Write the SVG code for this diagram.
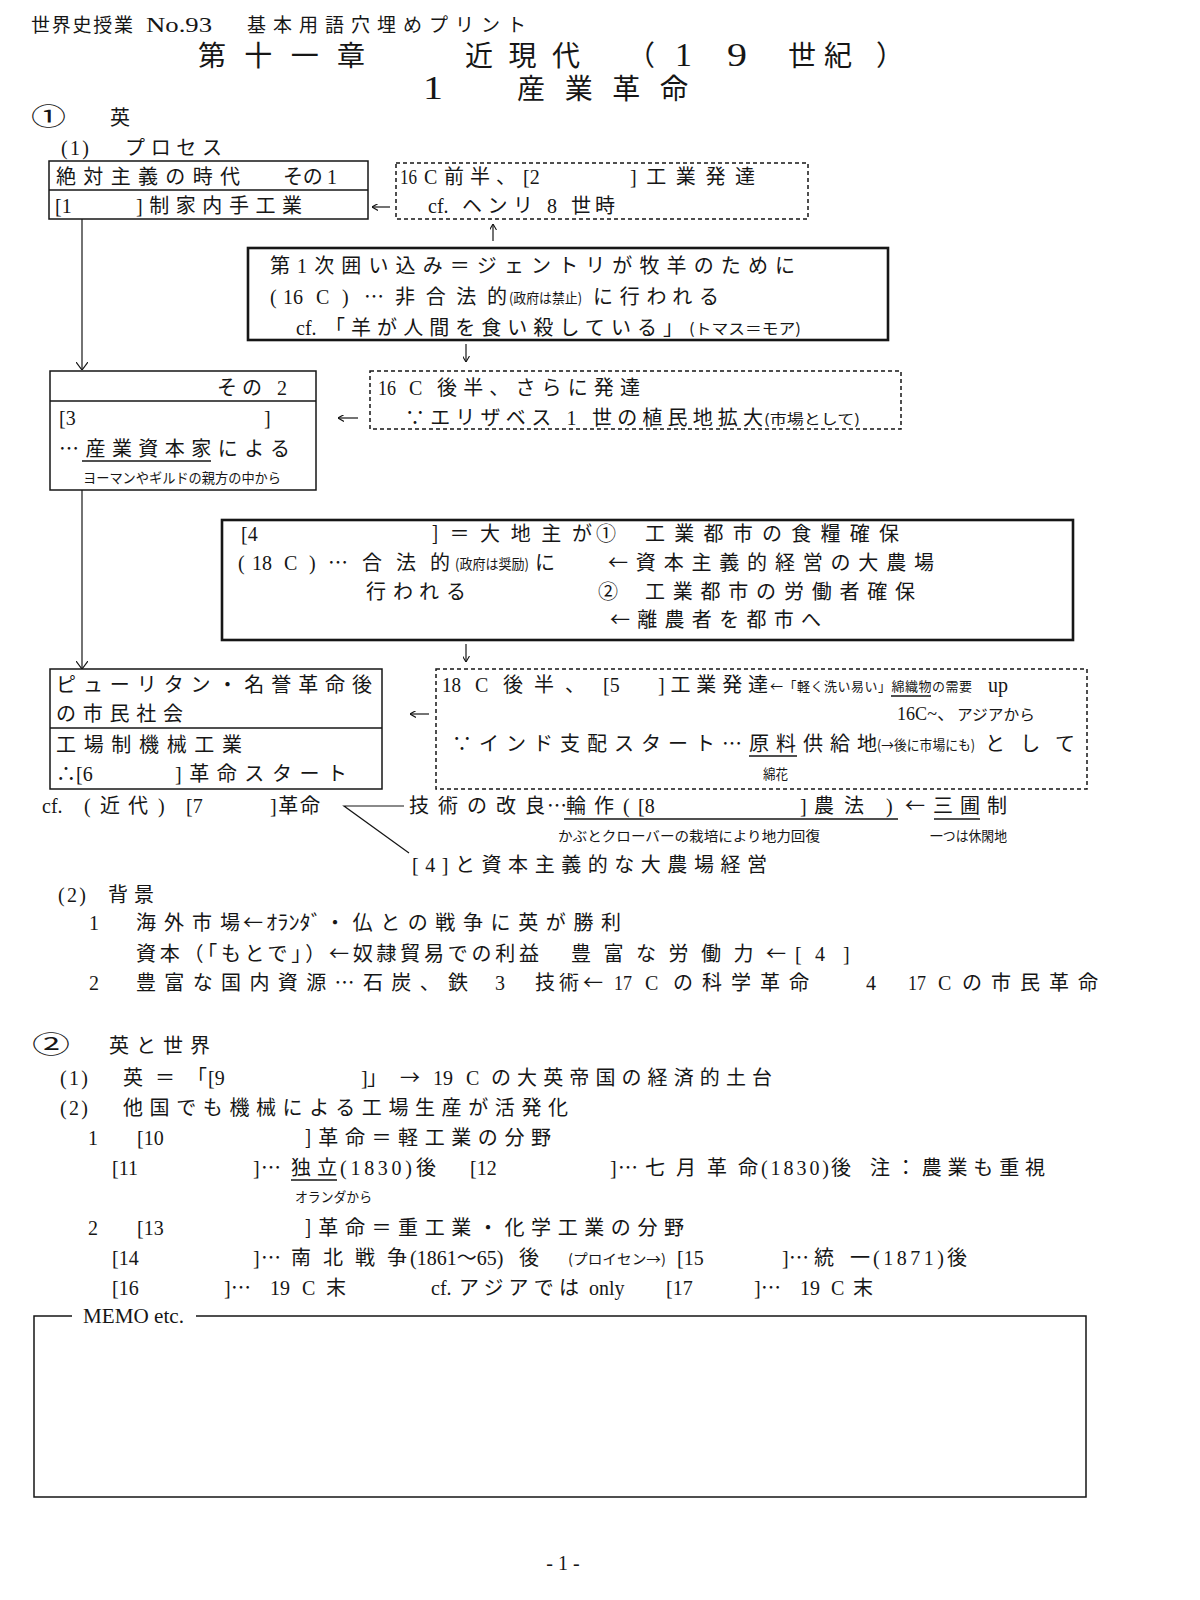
<svg xmlns="http://www.w3.org/2000/svg" width="1200" height="1600" viewBox="0 0 1200 1600">
<defs>
<style>
text{font-family:"Liberation Serif","Noto Sans CJK JP",serif;fill:#161616;font-size:20px}
.j,.s,.m{font-family:"Noto Sans CJK JP",sans-serif}
.s{font-size:14px}
.m{font-size:15px}
.h{font-size:19px}
.t{font-size:28px}
.td{font-size:33px}
.c{font-size:24px}
.box{fill:none;stroke:#161616;stroke-width:1.5}
.thick{stroke-width:2.6}
.dash{fill:none;stroke:#161616;stroke-width:1.5;stroke-dasharray:4 3}
.ln{fill:none;stroke:#161616;stroke-width:1.2}
.ul{stroke:#161616;stroke-width:1.6}
</style>
<marker id="sa" viewBox="0 0 6 7" refX="6" refY="3.5" markerWidth="6" markerHeight="7" markerUnits="userSpaceOnUse" orient="auto">
<path d="M0,0 L6,3.5 L0,7" fill="none" stroke="#161616" stroke-width="1.1"/>
</marker>
<marker id="va" viewBox="0 0 8 12" refX="8" refY="6" markerWidth="8" markerHeight="12" markerUnits="userSpaceOnUse" orient="auto">
<path d="M0,0 L8,6 L0,12" fill="none" stroke="#161616" stroke-width="1.2"/>
</marker>
</defs>
<rect width="1200" height="1600" fill="#ffffff"/>

<g id="header">
<text class="h" x="31" y="32" textLength="102">世界史授業</text>
<text x="146" y="32" style="font-size:22px" textLength="66" lengthAdjust="spacingAndGlyphs">No.93</text>
<text class="h" x="247" y="32" textLength="279">基本用語穴埋めプリント</text>
<text class="t" x="198" y="66" textLength="167">第十一章</text>
<text class="t" x="465" y="66" textLength="115">近現代</text>
<text class="t j" x="627" y="66">（</text>
<text class="td" x="675" y="66" textLength="17" lengthAdjust="spacingAndGlyphs">1</text>
<text class="td" x="727" y="66" textLength="20" lengthAdjust="spacingAndGlyphs">9</text>
<text class="t" x="788" y="66" textLength="64">世紀</text>
<text class="t j" x="876" y="66">）</text>
<text class="td" x="423" y="99" textLength="20" lengthAdjust="spacingAndGlyphs">1</text>
<text class="t" x="517" y="99" textLength="171">産業革命</text>
</g>

<g id="section1">
<text class="c j" x="31" y="125" textLength="35" lengthAdjust="spacingAndGlyphs">①</text>
<text x="110" y="125">英</text>
<text x="61" y="155" textLength="28">(1)</text>
<text x="125" y="155" textLength="97">プロセス</text>
</g>

<g id="node-absolutism-1">
<rect class="box" x="49" y="161" width="319" height="58"/>
<line class="box" x1="49" y1="190" x2="368" y2="190"/>
<text x="56" y="184" textLength="184">絶対主義の時代</text>
<text x="283" y="184" textLength="54">その 1</text>
<text x="55" y="213">[1</text>
<text x="136" y="213" textLength="166">]制家内手工業</text>
</g>

<g id="node-16c-first-half">
<rect class="dash" x="396" y="163" width="412" height="56"/>
<text x="400" y="184" textLength="17" lengthAdjust="spacingAndGlyphs">16</text>
<text x="424" y="184">C</text>
<text x="444" y="184" textLength="72">前半、</text>
<text x="523" y="184">[2</text>
<text x="630" y="184" textLength="125">]工業発達</text>
<text x="428" y="213">cf.</text>
<text x="462" y="213" textLength="71">ヘンリ</text>
<text x="547" y="213">8</text>
<text x="571" y="213" textLength="44">世時</text>
</g>

<g id="node-enclosure-1">
<rect class="box thick" x="248" y="248" width="640" height="92"/>
<text x="270" y="273" textLength="525">第1次囲い込み＝ジェントリが牧羊のために</text>
<text y="304"><tspan x="270">(</tspan><tspan x="283">16</tspan><tspan x="316">C</tspan><tspan x="342">)</tspan></text>
<text class="j" x="364" y="304">…</text>
<text x="395" y="304" textLength="112">非合法的</text>
<text class="s" x="509" y="303" textLength="73" lengthAdjust="spacingAndGlyphs">(政府は禁止)</text>
<text x="593" y="304" textLength="126">に行われる</text>
<text x="296" y="335">cf.</text>
<text class="j" x="325" y="335" textLength="358">「羊が人間を食い殺している」</text>
<text class="m" x="689" y="334" textLength="112" lengthAdjust="spacingAndGlyphs">(トマス＝モア)</text>
</g>

<g id="node-absolutism-2">
<rect class="box" x="50" y="371" width="266" height="119"/>
<line class="box" x1="50" y1="401" x2="316" y2="401"/>
<text x="217" y="395" textLength="70">その 2</text>
<text x="59" y="425">[3</text>
<text x="264" y="425">]</text>
<text class="j" x="59" y="456" textLength="231">…産業資本家による</text>
<line class="ul" x1="82" y1="461" x2="211" y2="461"/>
<text class="s" x="83" y="483" textLength="198" lengthAdjust="spacingAndGlyphs">ヨーマンやギルドの親方の中から</text>
</g>

<g id="node-16c-second-half">
<rect class="dash" x="370" y="371" width="531" height="58"/>
<text x="378" y="395" textLength="18" lengthAdjust="spacingAndGlyphs">16</text>
<text x="409" y="395">C</text>
<text x="437" y="395" textLength="203">後半、さらに発達</text>
<text x="405" y="425" textLength="358"><tspan class="j">∵</tspan>エリザベス 1 世の植民地拡大</text>
<text class="s" x="764" y="424" textLength="96" lengthAdjust="spacingAndGlyphs">(市場として)</text>
</g>

<g id="node-enclosure-2">
<rect class="box thick" x="222" y="520" width="851" height="120"/>
<text x="241" y="541">[4</text>
<text class="j" x="432" y="541" textLength="160">]＝大地主が</text>
<text class="j" x="596" y="541">①</text>
<text x="645" y="541" textLength="254">工業都市の食糧確保</text>
<text y="570"><tspan x="238">(</tspan><tspan x="252">18</tspan><tspan x="284">C</tspan><tspan x="309">)</tspan></text>
<text class="j" x="328" y="570">…</text>
<text x="362" y="570" textLength="88">合法的</text>
<text class="s" x="455" y="569" textLength="74" lengthAdjust="spacingAndGlyphs">(政府は奨励)</text>
<text x="535" y="570">に</text>
<text class="j" x="608" y="570" textLength="326">←資本主義的経営の大農場</text>
<text x="366" y="599" textLength="100">行われる</text>
<text class="j" x="598" y="599">②</text>
<text x="645" y="599" textLength="270">工業都市の労働者確保</text>
<text class="j" x="610" y="627" textLength="211">←離農者を都市へ</text>
</g>

<g id="node-civil-society">
<rect class="box" x="50" y="669" width="332" height="120"/>
<line class="box" x1="50" y1="728" x2="382" y2="728"/>
<text x="56" y="692" textLength="316">ピューリタン・名誉革命後</text>
<text x="56" y="721" textLength="127">の市民社会</text>
<text x="56" y="752" textLength="186">工場制機械工業</text>
<text x="56" y="781"><tspan class="j">∴</tspan>[6</text>
<text x="175" y="781" textLength="172">]革命スタート</text>
</g>

<g id="node-18c-second-half">
<rect class="dash" x="436" y="669" width="651" height="120"/>
<text x="442" y="692" textLength="19" lengthAdjust="spacingAndGlyphs">18</text>
<text x="475" y="692">C</text>
<text x="503" y="692" textLength="82">後半、</text>
<text x="603" y="692">[5</text>
<text x="658" y="692" textLength="110">]工業発達</text>
<text class="j" x="770" y="691" style="font-size:13px" textLength="202">←「軽く洗い易い」綿織物の需要</text>
<line class="ul" x1="891" y1="696" x2="931" y2="696"/>
<text x="988" y="692">up</text>
<text x="897" y="720" style="font-size:18px" textLength="58" lengthAdjust="spacingAndGlyphs">16C~、</text>
<text class="m" x="957" y="720" textLength="78" lengthAdjust="spacingAndGlyphs">アジアから</text>
<text class="j" x="452" y="751" textLength="425">∵インド支配スタート…原料供給地</text>
<line class="ul" x1="749" y1="756" x2="797" y2="756"/>
<text class="s" x="877" y="750" textLength="98" lengthAdjust="spacingAndGlyphs">(→後に市場にも)</text>
<text x="985" y="751" textLength="90">として</text>
<text class="s" x="763" y="779" textLength="25" lengthAdjust="spacingAndGlyphs">綿花</text>
</g>

<g id="node-agricultural-revolution">
<text x="42" y="813">cf.</text>
<text y="813"><tspan x="84">(</tspan><tspan x="100">近</tspan><tspan x="128">代</tspan><tspan x="158">)</tspan></text>
<text x="186" y="813">[7</text>
<text x="270" y="813" textLength="50">]革命</text>
<text x="409" y="813" textLength="136">技術の改良</text>
<text class="j" x="547" y="813">…</text>
<text x="566" y="813" textLength="48">輪作</text>
<text x="623" y="813">(</text>
<text x="638" y="813">[8</text>
<text x="800" y="813">]</text>
<text x="814" y="813" textLength="50">農法</text>
<text x="886" y="813">)</text>
<line class="ul" x1="564" y1="819" x2="898" y2="819"/>
<text class="j" x="905" y="813">←</text>
<text x="933" y="813" textLength="74">三圃制</text>
<line class="ul" x1="934" y1="819" x2="980" y2="819"/>
<text class="s" x="558" y="841" textLength="262" lengthAdjust="spacingAndGlyphs">かぶとクローバーの栽培により地力回復</text>
<text class="s" x="930" y="841" textLength="77" lengthAdjust="spacingAndGlyphs">一つは休閑地</text>
<text x="412" y="872" textLength="355">[4]と資本主義的な大農場経営</text>
</g>

<g id="background">
<text x="58" y="902" textLength="28">(2)</text>
<text x="108" y="902" textLength="46">背景</text>
<text x="89" y="930">1</text>
<text x="136" y="930" textLength="104">海外市場</text>
<text class="j" x="243" y="930">←</text>
<text class="j" x="266" y="930" textLength="56" lengthAdjust="spacingAndGlyphs">ｵﾗﾝﾀﾞ</text>
<text x="325" y="930" textLength="296">・仏との戦争に英が勝利</text>
<text class="j" x="136" y="961" textLength="403">資本（「もとで」）←奴隷貿易での利益</text>
<text class="j" x="571" y="961" textLength="215">豊富な労働力←</text>
<text x="795" y="961">[</text>
<text x="815" y="961">4</text>
<text x="843" y="961">]</text>
<text x="89" y="990">2</text>
<text class="j" x="136" y="990" textLength="332">豊富な国内資源…石炭、鉄</text>
<text x="495" y="990">3</text>
<text class="j" x="535" y="990" textLength="68">技術←</text>
<text x="614" y="990" textLength="18" lengthAdjust="spacingAndGlyphs">17</text>
<text x="645" y="990">C</text>
<text x="673" y="990" textLength="136">の科学革命</text>
<text x="866" y="990">4</text>
<text x="908" y="990" textLength="18" lengthAdjust="spacingAndGlyphs">17</text>
<text x="938" y="990">C</text>
<text x="962" y="990" textLength="136">の市民革命</text>
</g>

<g id="section2">
<text class="c j" x="32" y="1053" textLength="38" lengthAdjust="spacingAndGlyphs">②</text>
<text x="109" y="1053" textLength="101">英と世界</text>
<text x="60" y="1085" textLength="28">(1)</text>
<text class="j" x="123" y="1085" textLength="84">英＝「</text>
<text x="208" y="1085">[9</text>
<text x="361" y="1085">]</text>
<text class="j" x="367" y="1085">」</text>
<text class="j" x="400" y="1085">→</text>
<text x="433" y="1085">19</text>
<text x="466" y="1085">C</text>
<text x="491" y="1085" textLength="281">の大英帝国の経済的土台</text>
<text x="60" y="1115" textLength="28">(2)</text>
<text x="123" y="1115" textLength="445">他国でも機械による工場生産が活発化</text>
<text x="88" y="1145">1</text>
<text x="137" y="1145">[10</text>
<text class="j" x="305" y="1145" textLength="246">]革命＝軽工業の分野</text>

<text x="112" y="1175">[11</text>
<text x="253" y="1175">]</text>
<text class="j" x="261" y="1175">…</text>
<text x="291" y="1175" textLength="46">独立</text>
<line class="ul" x1="291" y1="1180" x2="337" y2="1180"/>
<text x="340" y="1175" textLength="72">(1830)</text>
<text x="416" y="1175">後</text>
<text x="470" y="1175">[12</text>
<text x="610" y="1175">]</text>
<text class="j" x="618" y="1175">…</text>
<text x="645" y="1175" textLength="113">七月革命</text>
<text x="761" y="1175" textLength="68">(1830)</text>
<text x="831" y="1175">後</text>
<text class="j" x="870" y="1175" textLength="175">注：農業も重視</text>
<text class="s" x="295" y="1202" textLength="77" lengthAdjust="spacingAndGlyphs">オランダから</text>

<text x="88" y="1235">2</text>
<text x="137" y="1235">[13</text>
<text class="j" x="305" y="1235" textLength="379">]革命＝重工業・化学工業の分野</text>

<text x="112" y="1265">[14</text>
<text x="253" y="1265">]</text>
<text class="j" x="261" y="1265">…</text>
<text x="291" y="1265" textLength="116">南北戦争</text>
<text y="1265"><tspan x="410">(1861</tspan><tspan class="j">～</tspan><tspan>65)</tspan></text>
<text x="519" y="1265">後</text>
<text class="s" x="568" y="1264" textLength="98" lengthAdjust="spacingAndGlyphs">(プロイセン→)</text>
<text x="677" y="1265">[15</text>
<text x="782" y="1265">]</text>
<text class="j" x="789" y="1265">…</text>
<text x="814" y="1265" textLength="56">統一</text>
<text x="873" y="1265" textLength="71">(1871)</text>
<text x="947" y="1265">後</text>

<text x="112" y="1295">[16</text>
<text x="224" y="1295">]</text>
<text class="j" x="231" y="1295">…</text>
<text x="270" y="1295">19</text>
<text x="302" y="1295">C</text>
<text x="326" y="1295">末</text>
<text x="431" y="1295">cf.</text>
<text x="459" y="1295" textLength="120">アジアでは</text>
<text x="589" y="1295">only</text>
<text x="666" y="1295">[17</text>
<text x="754" y="1295">]</text>
<text class="j" x="761" y="1295">…</text>
<text x="800" y="1295">19</text>
<text x="831" y="1295">C</text>
<text x="853" y="1295">末</text>
</g>

<g id="memo">
<path class="box" d="M72,1316 H34 V1497 H1086 V1316 H196"/>
<text x="83" y="1323" textLength="101" lengthAdjust="spacingAndGlyphs">MEMO etc.</text>
</g>

<g id="footer">
<text x="563" y="1570" text-anchor="middle">- 1 -</text>
</g>

<g id="connectors">
<line class="ln" x1="82" y1="219" x2="82" y2="370" marker-end="url(#va)"/>
<line class="ln" x1="82" y1="490" x2="82" y2="669" marker-end="url(#va)"/>
<line class="ln" x1="390" y1="207" x2="372" y2="207" marker-end="url(#sa)"/>
<line class="ln" x1="493" y1="241" x2="493" y2="224" marker-end="url(#sa)"/>
<line class="ln" x1="466" y1="344" x2="466" y2="362" marker-end="url(#sa)"/>
<line class="ln" x1="358" y1="418" x2="338" y2="418" marker-end="url(#sa)"/>
<line class="ln" x1="466" y1="644" x2="466" y2="662" marker-end="url(#sa)"/>
<line class="ln" x1="429" y1="714" x2="410" y2="714" marker-end="url(#sa)"/>
<path class="ln" d="M404,806 H344 L409,853"/>
</g>
</svg>
